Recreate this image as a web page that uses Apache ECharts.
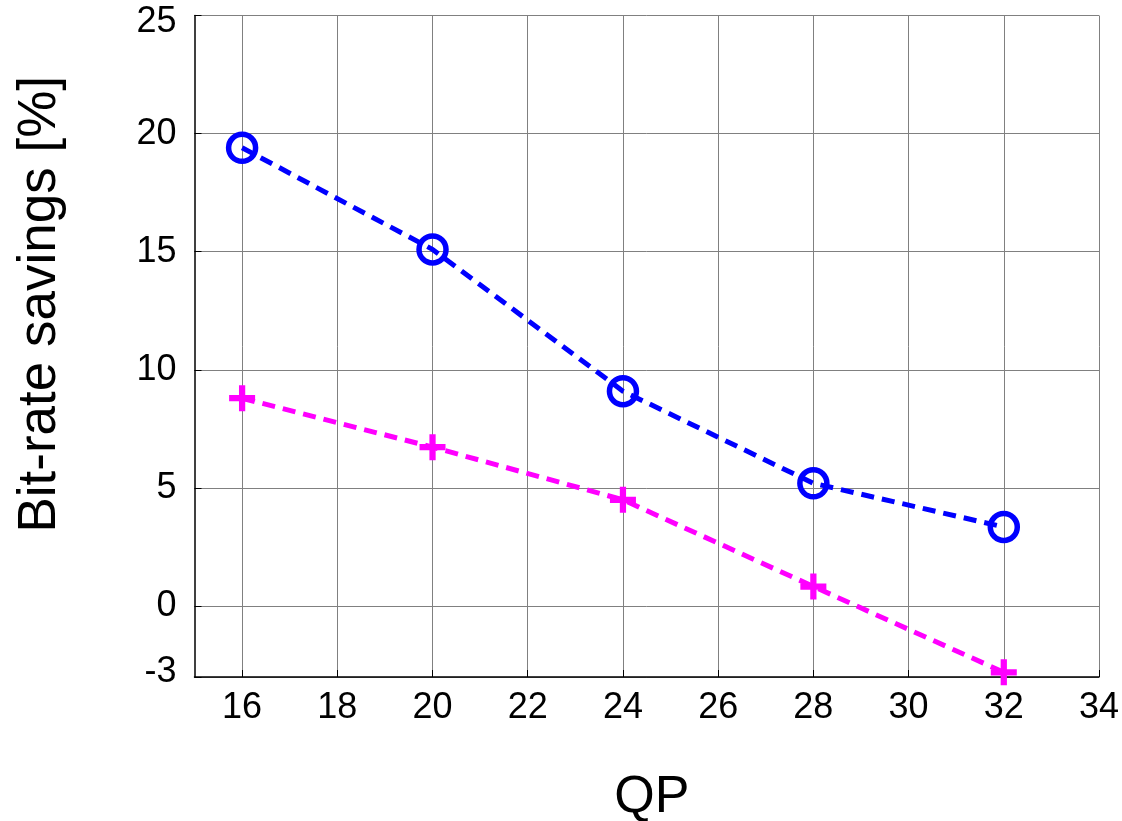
<!DOCTYPE html>
<html>
<head>
<meta charset="utf-8">
<script src="https://cdn.jsdelivr.net/npm/echarts@6/dist/echarts.min.js"></script>
<style>
html,body{margin:0;padding:0;background:#fff;}
#chart{width:1122px;height:821px;}
</style>
</head>
<body>
<div id="chart"></div>
<script>
var qp = [16, 20, 24, 28, 32];
var circleSeries = [19.4, 15.1, 9.1, 5.2, 3.35];
var plusSeries = [8.8, 6.73, 4.5, 0.83, -2.8];
var xTicks = [16, 18, 20, 22, 24, 26, 28, 30, 32, 34];
var yTicks = [-3, 0, 5, 10, 15, 20, 25];

var chart = echarts.init(document.getElementById('chart'), null, {renderer: 'canvas'});
var font = 'Liberation Sans, Arial, sans-serif';
var plusPath = 'path://M-1.2,-5H1.2V-1.2H5V1.2H1.2V5H-1.2V1.2H-5V-1.2H-1.2Z';

chart.setOption({
  animation: false,
  backgroundColor: '#fff',
  grid: {left: 194.5, right: 23, top: 15.5, bottom: 144, containLabel: false, outerBoundsMode: 'none'},
  xAxis: {
    type: 'value', min: 15, max: 34,
    name: 'QP', nameLocation: 'middle', nameGap: 95,
    nameTextStyle: {fontFamily: font, fontSize: 52, color: '#000', padding: [0, 0, 0, 10]},
    axisLine: {show: true, onZero: false, lineStyle: {color: '#000', width: 1.5}},
    axisTick: {show: true, inside: true, length: 7, customValues: xTicks, lineStyle: {color: '#000'}},
    axisLabel: {customValues: xTicks, fontFamily: font, fontSize: 36, color: '#000', margin: 13},
    splitLine: {show: true, lineStyle: {color: '#808080', width: 1}}
  },
  yAxis: {
    type: 'value', min: -3, max: 25,
    name: 'Bit-rate savings [%]', nameLocation: 'middle', nameGap: 128, nameRotate: 90,
    nameTextStyle: {fontFamily: font, fontSize: 53, color: '#000', padding: [0, 0, 0, 84]},
    axisLine: {show: true, onZero: false, lineStyle: {color: '#000', width: 1.5}},
    axisTick: {show: true, inside: true, length: 7, customValues: yTicks, lineStyle: {color: '#000'}},
    axisLabel: {
      customValues: yTicks, fontFamily: font, fontSize: 36, color: '#000', margin: 18,
      formatter: function (v) {
        if (v === 25) return '{top|' + v + '}';
        if (v === -3) return '{bot|' + v + '}';
        return String(v);
      },
      rich: {
        top: {fontFamily: font, fontSize: 36, color: '#000', padding: [14, 0, 0, 0]},
        bot: {fontFamily: font, fontSize: 36, color: '#000', padding: [0, 0, 10, 0]}
      }
    },
    splitLine: {show: true, lineStyle: {color: '#808080', width: 1}}
  },
  series: [
    {
      type: 'line',
      data: qp.map(function (q, i) { return [q, circleSeries[i]]; }),
      lineStyle: {color: '#0000ff', width: 5, type: [13, 8]},
      symbol: 'circle', symbolSize: 27,
      itemStyle: {color: 'rgba(0,0,0,0)', borderColor: '#0000ff', borderWidth: 5.5},
      z: 3
    },
    {
      type: 'line',
      data: qp.map(function (q, i) { return [q, plusSeries[i]]; }),
      lineStyle: {color: '#ff00ff', width: 5, type: [13, 8]},
      symbol: plusPath, symbolSize: 26,
      itemStyle: {color: '#ff00ff', borderWidth: 0},
      z: 2
    }
  ]
});
</script>
</body>
</html>
